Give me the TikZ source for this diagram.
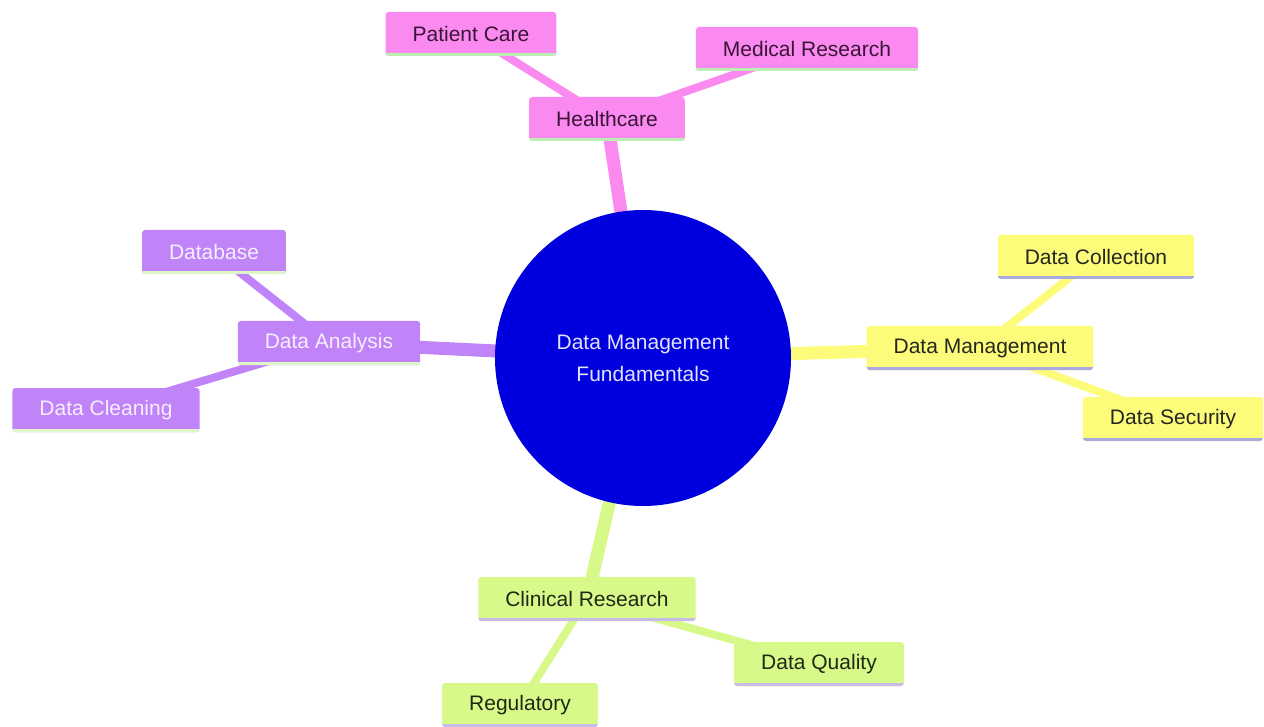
\documentclass[tikz,border=0pt]{standalone}
\usepackage{fontspec}
\setmainfont{Liberation Sans}
\usetikzlibrary{backgrounds}
\definecolor{pinkc}{HTML}{FA8AF0}
\definecolor{purpc}{HTML}{C084F8}
\definecolor{yellc}{HTML}{FCFC7A}
\definecolor{greenc}{HTML}{D6F98A}
\definecolor{bluec}{HTML}{0000DF}
\definecolor{pinkul}{HTML}{BDEFB5}
\definecolor{purpul}{HTML}{DDF5C8}
\definecolor{yellul}{HTML}{A9A9DF}
\definecolor{greenul}{HTML}{C9BBE8}
\definecolor{pinktx}{HTML}{3A1438}
\definecolor{purptx}{HTML}{F6EEFF}
\definecolor{yelltx}{HTML}{262620}
\definecolor{greentx}{HTML}{1C2A14}
\definecolor{roottx}{HTML}{E2E2FF}
\begin{document}
\begin{tikzpicture}[x=1pt,y=-1pt,
  box/.style={rectangle, rounded corners=3pt, inner xsep=27pt, inner ysep=0pt,
    minimum height=44pt, font=\fontsize{21}{25}\selectfont},
  ul/.style={path picture={\draw[line width=6pt,#1]
      (path picture bounding box.south west) -- (path picture bounding box.south east);}},
  pinkbox/.style={box, fill=pinkc, text=pinktx, ul=pinkul},
  purpbox/.style={box, fill=purpc, text=purptx, ul=purpul},
  yellbox/.style={box, fill=yellc, text=yelltx, ul=yellul},
  greenbox/.style={box, fill=greenc, text=greentx, ul=greenul},
  mainedge/.style={line width=13pt},
  subedge/.style={line width=8pt},
]
\useasboundingbox (0,0) rectangle (1264,727);

\node[circle, fill=bluec, minimum size=296pt, inner sep=0pt, text=roottx, align=center,
  font=\fontsize{21}{32}\selectfont] (root) at (643,358) {Data Management\\Fundamentals};

\node[pinkbox] (hc) at (607,119) {Healthcare};
\node[pinkbox] (pc) at (471,34) {Patient Care};
\node[pinkbox] (mr) at (807,49) {Medical Research};

\node[purpbox] (da) at (329,343) {Data Analysis};
\node[purpbox] (db) at (214,252) {Database};
\node[purpbox] (dc) at (106,410) {Data Cleaning};

\node[yellbox] (dm) at (980,348) {Data Management};
\node[yellbox] (dcol) at (1096,257) {Data Collection};
\node[yellbox] (dsec) at (1173,419) {Data Security};

\node[greenbox] (cr) at (587,599) {Clinical Research};
\node[greenbox] (dq) at (819,664) {Data Quality};
\node[greenbox] (reg) at (520,705) {Regulatory};

\begin{scope}[on background layer]
  \draw[mainedge, pinkc] (root.center) -- (hc.center);
  \draw[subedge, pinkc] (hc.center) -- (pc.center);
  \draw[subedge, pinkc] (hc.center) -- (mr.center);
  \draw[mainedge, purpc] (root.center) -- (da.center);
  \draw[subedge, purpc] (da.center) -- (db.center);
  \draw[subedge, purpc] (da.center) -- (dc.center);
  \draw[mainedge, yellc] (root.center) -- (dm.center);
  \draw[subedge, yellc] (dm.center) -- (dcol.center);
  \draw[subedge, yellc] (dm.center) -- (dsec.center);
  \draw[mainedge, greenc] (root.center) -- (cr.center);
  \draw[subedge, greenc] (cr.center) -- (dq.center);
  \draw[subedge, greenc] (cr.center) -- (reg.center);
\end{scope}
\end{tikzpicture}
\end{document}
